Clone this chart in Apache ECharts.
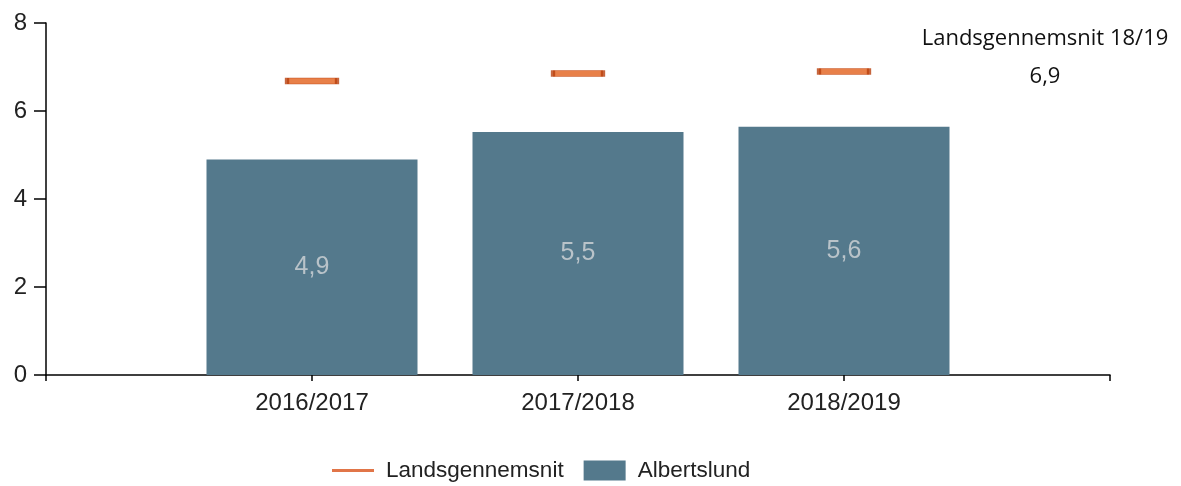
<!DOCTYPE html>
<html>
<head>
<meta charset="utf-8">
<script src="https://cdn.jsdelivr.net/npm/echarts@6/dist/echarts.min.js"></script>
<style>
  html, body { margin: 0; padding: 0; background: #fff; }
  #chart { width: 1181px; height: 486px; }
</style>
</head>
<body>
<div id="chart"></div>
<script>
// data
const categories = ["2016/2017", "2017/2018", "2018/2019"];
const albertslund = [4.9, 5.52, 5.64];
const landsgennemsnit = [6.68, 6.85, 6.9];
const yTicks = [0, 2, 4, 6, 8];

const fmt = (v) => v.toFixed(1).replace(".", ",");

// pad with an empty slot each side so the years sit on ticks 1..3
const axisData = ["", ...categories, ""];
const pad = (arr) => [null, ...arr, null];

const chart = echarts.init(document.getElementById("chart"));
chart.setOption({
  animation: false,
  title: {
    text: "Landsgennemsnit 18/19",
    subtext: fmt(landsgennemsnit[landsgennemsnit.length - 1]),
    left: 1040,
    top: 20,
    textAlign: "center",
    itemGap: 10,
    textStyle: { fontFamily: "Open Sans", fontSize: 22, fontWeight: "normal", color: "#111", lineHeight: 28 },
    subtextStyle: { fontFamily: "Open Sans", fontSize: 22, color: "#111", lineHeight: 28 },
  },
  legend: {
    top: 459,
    left: 332,
    padding: 0,
    itemGap: 20,
    itemWidth: 42,
    itemHeight: 20,
    textStyle: { fontFamily: "Liberation Sans", fontSize: 22.5, color: "#222", padding: [0, 0, 0, 7] },
    data: [
      { name: "Landsgennemsnit", icon: "path://M0,8.5 L42,8.5 L42,11.5 L0,11.5 Z", itemStyle: { color: "#d9531a", borderWidth: 0 } },
      { name: "Albertslund", icon: "rect", itemStyle: { color: "#54798c" } },
    ],
  },
  grid: { left: 46, right: 71, top: 23, bottom: 111 },
  xAxis: {
    type: "category",
    data: axisData,
    boundaryGap: false,
    axisLine: { lineStyle: { color: "#000", width: 1.5 } },
    axisTick: { show: true, length: 6, lineStyle: { color: "#000", width: 1.5 } },
    axisLabel: { fontFamily: "Liberation Sans", fontSize: 24, color: "#222", margin: 16, interval: 0 },
  },
  yAxis: {
    type: "value",
    min: 0,
    max: yTicks[yTicks.length - 1],
    interval: 2,
    axisLine: { show: true, lineStyle: { color: "#000", width: 1.5 } },
    axisTick: { show: true, length: 12, lineStyle: { color: "#000", width: 1.5 } },
    axisLabel: { fontFamily: "Liberation Sans", fontSize: 24, color: "#222", margin: 19 },
    splitLine: { show: false },
  },
  series: [
    {
      name: "Albertslund",
      type: "bar",
      data: pad(albertslund),
      barWidth: 211,
      itemStyle: { color: "#54798c" },
      label: {
        show: true,
        position: "inside",
        formatter: (p) => fmt(p.value),
        fontFamily: "Liberation Sans",
        fontSize: 25,
        color: "#b9c3c9",
      },
    },
    {
      name: "Landsgennemsnit",
      type: "scatter",
      data: pad(landsgennemsnit),
      symbol: "rect",
      symbolSize: [50, 6],
      itemStyle: { color: "#e2601c", borderColor: "#b8400e", borderWidth: 1.5 },
      z: 3,
    },
  ],
});
</script>
</body>
</html>
